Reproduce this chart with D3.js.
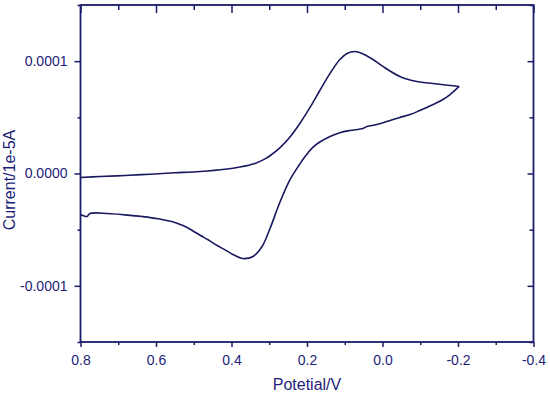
<!DOCTYPE html>
<html>
<head>
<meta charset="utf-8">
<script src="https://cdn.jsdelivr.net/npm/d3@7"></script>
<style>
  body { margin: 0; background: #fff; }
  text { font-family: Arial, "Liberation Sans", sans-serif; fill: #1e1e78; }
</style>
</head>
<body>
<script>
// potential in V, current in microamps (axis shows amps)
var fwdPotential = [0.80, 0.748, 0.682, 0.616, 0.550, 0.483, 0.417, 0.378, 0.338, 0.311, 0.298, 0.272, 0.245, 0.219, 0.192, 0.166, 0.139, 0.113, 0.094, 0.073, 0.054, 0.025, -0.001, -0.046, -0.091, -0.134, -0.179, -0.203];
var fwdCurrent   = [-3.6, -2.7, -1.8, -0.6, 0.6, 1.8, 3.8, 5.8, 9.0, 13.0, 15.8, 22.8, 32.5, 44.5, 58.8, 73.9, 89.1, 101.5, 106.9, 108.6, 106.9, 101.5, 95.3, 86.4, 81.9, 80.1, 78.4, 77.5];

var revPotential = [-0.203, -0.179, -0.160, -0.134, -0.099, -0.073, -0.046, -0.020, 0.015, 0.041, 0.052, 0.086, 0.113, 0.139, 0.166, 0.184, 0.197, 0.211, 0.219, 0.245, 0.272, 0.298, 0.319, 0.343, 0.370, 0.396, 0.417, 0.438, 0.462, 0.483, 0.505, 0.527, 0.550, 0.594, 0.637, 0.682, 0.727, 0.775, 0.783, 0.80];
var revCurrent   = [77.5, 70.3, 65.9, 61.4, 56.1, 52.5, 49.9, 47.2, 43.6, 41.9, 40.1, 38.3, 36.3, 33.0, 28.0, 23.5, 18.5, 12.5, 8.5, -5.5, -25.8, -49.0, -65.0, -73.9, -75.7, -72.1, -68.0, -64.1, -59.0, -55.0, -50.5, -46.6, -43.6, -40.3, -38.3, -36.8, -35.6, -35.6, -38.3, -36.5];

var xMajor = [0.8, 0.6, 0.4, 0.2, 0.0, -0.2, -0.4];
var xMinor = [0.7, 0.5, 0.3, 0.1, -0.1, -0.3];
var yMajor = [-100, 0, 100];
var yMinor = [-150, -50, 50, 150];

var width = 550, height = 398;
var plotL = 80.5, plotR = 533.5, plotT = 5, plotB = 342;
var ink = "#1b1b6b";

var svg = d3.select("body").append("svg")
    .attr("width", width)
    .attr("height", height);

var x = d3.scaleLinear().domain([0.8, -0.4]).range([plotL, plotR]);
var y = d3.scaleLinear().domain([-150, 150]).range([plotB, plotT]);

function styleAxis(g) {
    g.select(".domain").remove();
    g.selectAll("line").attr("stroke", ink).attr("stroke-width", 1.5);
    g.selectAll("text").attr("fill", "#1e1e78").style("font-size", "14px");
}

// bottom
svg.append("g").attr("transform", "translate(0," + plotB + ")")
    .call(d3.axisBottom(x).tickValues(xMajor).tickSize(5).tickPadding(8)
        .tickFormat(function(d){ return d.toFixed(1); }))
    .call(styleAxis);
svg.append("g").attr("transform", "translate(0," + plotB + ")")
    .call(d3.axisBottom(x).tickValues(xMinor).tickSize(3).tickFormat(""))
    .call(styleAxis);

// top (inward)
svg.append("g").attr("transform", "translate(0," + plotT + ")")
    .call(d3.axisTop(x).tickValues(xMajor).tickSize(-8).tickFormat(""))
    .call(styleAxis);
svg.append("g").attr("transform", "translate(0," + plotT + ")")
    .call(d3.axisTop(x).tickValues(xMinor).tickSize(-5).tickFormat(""))
    .call(styleAxis);

// left
svg.append("g").attr("transform", "translate(" + plotL + ",0)")
    .call(d3.axisLeft(y).tickValues(yMajor).tickSize(6).tickPadding(7)
        .tickFormat(function(d){ return (d * 1e-6).toFixed(4); }))
    .call(styleAxis);
svg.append("g").attr("transform", "translate(" + plotL + ",0)")
    .call(d3.axisLeft(y).tickValues(yMinor).tickSize(3).tickFormat(""))
    .call(styleAxis);

// right (inward)
svg.append("g").attr("transform", "translate(" + plotR + ",0)")
    .call(d3.axisRight(y).tickValues(yMajor).tickSize(-6).tickFormat(""))
    .call(styleAxis);
svg.append("g").attr("transform", "translate(" + plotR + ",0)")
    .call(d3.axisRight(y).tickValues(yMinor).tickSize(-4).tickFormat(""))
    .call(styleAxis);

// frame
svg.append("rect")
    .attr("x", plotL).attr("y", plotT)
    .attr("width", plotR - plotL).attr("height", plotB - plotT)
    .attr("fill", "none").attr("stroke", ink).attr("stroke-width", 1.8);

var line = d3.line()
    .x(function(d){ return x(d[0]); })
    .y(function(d){ return y(d[1]); })
    .curve(d3.curveCatmullRom);

var fwd = d3.zip(fwdPotential, fwdCurrent);
var rev = d3.zip(revPotential, revCurrent);

[fwd, rev].forEach(function(seg) {
    svg.append("path")
        .datum(seg)
        .attr("d", line)
        .attr("fill", "none")
        .attr("stroke", "#191960")
        .attr("stroke-width", 1.6)
        .attr("stroke-linejoin", "round");
});

// axis titles
svg.append("text")
    .attr("x", (plotL + plotR) / 2)
    .attr("y", 390)
    .attr("text-anchor", "middle")
    .style("font-size", "16px")
    .text("Potetial/V");

svg.append("text")
    .attr("transform", "translate(15,180) rotate(-90)")
    .attr("text-anchor", "middle")
    .style("font-size", "16px")
    .text("Current/1e-5A");
</script>
</body>
</html>
